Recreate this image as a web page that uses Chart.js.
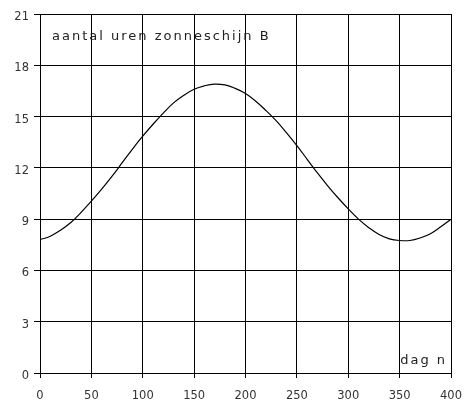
<!DOCTYPE html>
<html>
<head>
<meta charset="utf-8">
<script src="https://cdn.jsdelivr.net/npm/chart.js@4/dist/chart.umd.min.js"></script>
<style>
  html, body { margin: 0; padding: 0; background: #fff; }
  #wrap { width: 464px; height: 401px; }
</style>
</head>
<body>
<div id="wrap"><canvas id="zon"></canvas></div>
<script>
// dag n (x) en aantal uren zonneschijn B (y)
const dagen = [0, 10, 20, 30, 40, 50, 60, 70, 80, 90, 100, 110, 120, 130, 140, 150, 160, 170, 180, 190, 200,
               210, 220, 230, 240, 250, 260, 270, 280, 290, 300, 310, 320, 330, 340, 350, 360, 370, 380, 390, 400];
const uren = [7.8, 8.0, 8.35, 8.8, 9.4, 10.05, 10.75, 11.5, 12.3, 13.1, 13.85, 14.55, 15.2, 15.8, 16.25, 16.6, 16.8, 16.9, 16.85, 16.65, 16.35,
              15.9, 15.35, 14.75, 14.05, 13.3, 12.5, 11.7, 10.95, 10.25, 9.6, 9.0, 8.5, 8.1, 7.85, 7.75, 7.75, 7.9, 8.15, 8.55, 9.0];
const xTicks = [0, 50, 100, 150, 200, 250, 300, 350, 400];
const yTicks = [0, 3, 6, 9, 12, 15, 18, 21];

const punten = dagen.map((d, i) => ({ x: d, y: uren[i] }));

// teksten in het assenstelsel
const labelsPlugin = {
  id: "labels",
  afterDraw(chart) {
    const ctx = chart.ctx;
    const a = chart.chartArea;
    ctx.save();
    ctx.fillStyle = "#222";
    ctx.font = "13px 'DejaVu Sans'";
    ctx.letterSpacing = "2px";
    ctx.textBaseline = "middle";
    ctx.textAlign = "left";
    ctx.fillText("aantal uren zonneschijn B", a.left + 12, a.top + 23);
    ctx.textAlign = "right";
    ctx.fillText("dag n", a.right - 4, a.bottom - 12);
    ctx.restore();
  }
};

new Chart(document.getElementById("zon"), {
  type: "line",
  data: {
    datasets: [{
      data: punten,
      borderColor: "#000",
      borderWidth: 1.2,
      pointRadius: 0,
      tension: 0.4,
      fill: false
    }]
  },
  options: {
    responsive: true,
    maintainAspectRatio: false,
    animation: false,
    layout: { padding: { top: 14, right: 13, left: 0, bottom: 0 } },
    plugins: { legend: { display: false }, tooltip: { enabled: false } },
    scales: {
      x: {
        type: "linear",
        min: 0,
        max: 400,
        afterBuildTicks: s => { s.ticks = xTicks.map(v => ({ value: v })); },
        afterFit: s => { s.height = 28; s.paddingLeft = 0; s.paddingRight = 0; },
        grid: { color: "#000", lineWidth: 1, tickLength: 5 },
        border: { color: "#000", width: 1 },
        ticks: { color: "#333", font: { family: "DejaVu Sans", size: 11.5 }, padding: 11, maxRotation: 0 }
      },
      y: {
        min: 0,
        max: 21,
        afterBuildTicks: s => { s.ticks = yTicks.map(v => ({ value: v })); },
        afterFit: s => { s.width = 40; s.paddingTop = 0; s.paddingBottom = 0; },
        grid: { color: "#000", lineWidth: 1, tickLength: 6 },
        border: { color: "#000", width: 1 },
        ticks: { color: "#333", font: { family: "DejaVu Sans", size: 11.5 }, padding: 5, labelOffset: 3 }
      }
    }
  },
  plugins: [labelsPlugin]
});
</script>
</body>
</html>
